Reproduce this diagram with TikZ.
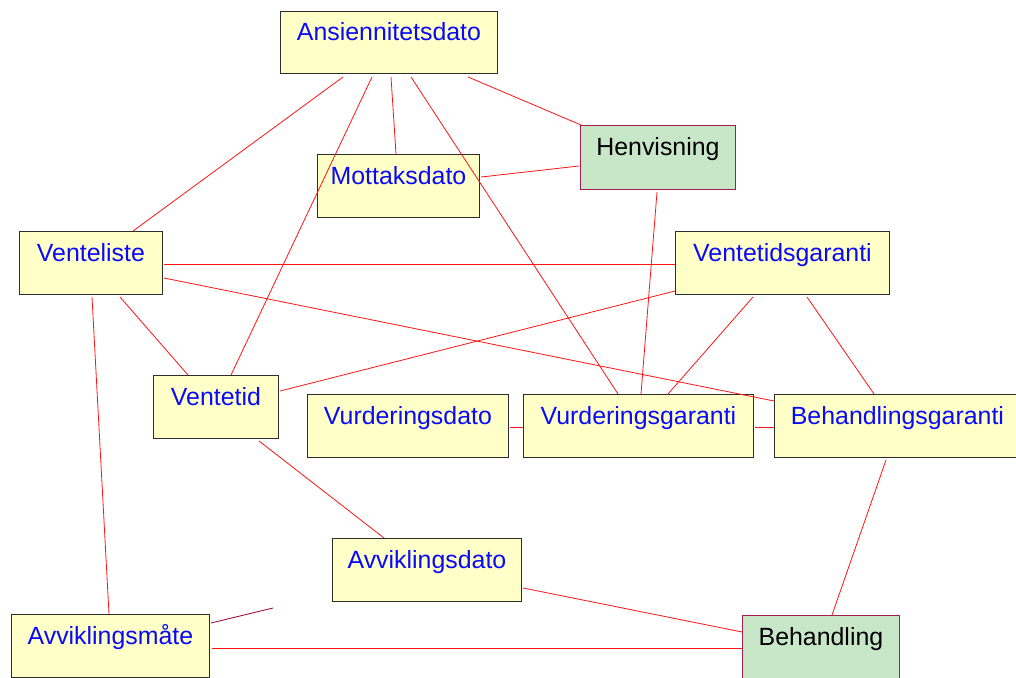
\documentclass[tikz,border=0pt]{standalone}
\usepackage{fontspec}
\setmainfont{Liberation Sans}
\usetikzlibrary{calc}

\definecolor{boxfill}{RGB}{255,255,200}
\definecolor{greenfill}{RGB}{200,230,200}
\definecolor{boxline}{RGB}{45,45,45}
\definecolor{greenline}{RGB}{165,30,75}
\definecolor{entitytext}{RGB}{10,10,250}
\definecolor{linkred}{RGB}{255,20,20}
\definecolor{stubred}{RGB}{160,20,60}

\tikzset{
  entity/.style={rectangle, anchor=north west, inner sep=0pt,
    fill=boxfill, draw=boxline, line width=0.9pt,
    text=entitytext, font=\fontsize{24.9}{30}\selectfont,
    text height=18pt, text depth=21pt, align=center},
  source/.style={entity, fill=greenfill, draw=greenline, text=black},
  link/.style={draw=linkred, line width=0.8pt},
  stub/.style={draw=stubred, line width=0.9pt}
}

\begin{document}
\begin{tikzpicture}[x=1pt, y=-1pt]
  \useasboundingbox (0,0) rectangle (1016,677);
  \fill[white] (0,0) rectangle (1016,677);
  \clip (0,0) rectangle (1016,677);

  % entities
  \node[entity, minimum width=217pt, minimum height=62pt] (ans) at (280,11) {Ansiennitetsdato};
  \node[entity, minimum width=162pt, minimum height=63pt] (mot) at (317,154) {Mottaksdato};
  \node[source, minimum width=155pt, minimum height=64pt] (hen) at (580,125) {Henvisning};
  \node[entity, minimum width=143pt, minimum height=63pt] (vl) at (19,231) {Venteliste};
  \node[entity, minimum width=214pt, minimum height=63pt] (vtg) at (675,231) {Ventetidsgaranti};
  \node[entity, minimum width=125pt, minimum height=63pt] (vt) at (153,375) {Ventetid};
  \node[entity, minimum width=201pt, minimum height=63pt] (vd) at (307,394) {Vurderingsdato};
  \node[entity, minimum width=230pt, minimum height=63pt] (vg) at (523,394) {Vurderingsgaranti};
  \node[entity, minimum width=246pt, minimum height=63pt] (bg) at (774,394) {Behandlingsgaranti};
  \node[entity, minimum width=189pt, minimum height=63pt] (ad) at (332,538) {Avviklingsdato};
  \node[entity, minimum width=198pt, minimum height=63pt] (am) at (11,614) {Avviklingsmåte};
  \node[source, minimum width=157pt, minimum height=63pt] (beh) at (742,615) {Behandling};

  \coordinate (stubend) at (273,608);

  % relations
  \draw[link] ($(ans.north west)+(63,66)$) -- ($(vl.north west)+(114,0)$);
  \draw[link] ($(ans.north west)+(92,66)$) -- ($(vt.north west)+(78,0)$);
  \draw[link] ($(ans.north west)+(111,66)$) -- ($(mot.north west)+(79,0)$);
  \draw[link] ($(ans.north west)+(131,66)$) -- ($(vg.north west)+(95,0)$);
  \draw[link] ($(ans.north west)+(188,66)$) -- ($(hen.north west)+(1,0)$);
  \draw[link] ($(mot.north west)+(164,23)$) -- ($(hen.north west)+(-1,41)$);
  \draw[link] ($(hen.north west)+(77,67)$) -- ($(vg.north west)+(118,0)$);
  \draw[link] ($(vl.north west)+(145,33)$) -- ($(vtg.north west)+(0,33)$);
  \draw[link] ($(vl.north west)+(145,47)$) -- ($(bg.north west)+(0,7)$);
  \draw[link] ($(vl.north west)+(101,66)$) -- ($(vt.north west)+(35,0)$);
  \draw[link] ($(vl.north west)+(73,66)$) -- ($(am.north west)+(98,0)$);
  \draw[link] ($(vtg.north west)+(0,60)$) -- ($(vt.north west)+(127,16)$);
  \draw[link] ($(vtg.north west)+(78,66)$) -- ($(vg.north west)+(145,0)$);
  \draw[link] ($(vtg.north west)+(132,66)$) -- ($(bg.north west)+(100,0)$);
  \draw[link] ($(vd.north west)+(203,33)$) -- ($(vg.north west)+(0,33)$);
  \draw[link] ($(vg.north west)+(232,33)$) -- ($(bg.north west)+(0,33)$);
  \draw[link] ($(vt.north west)+(106,66)$) -- ($(ad.north west)+(52,0)$);
  \draw[link] ($(ad.north west)+(191,50)$) -- ($(beh.north west)+(0,17)$);
  \draw[link] ($(bg.north west)+(112,66)$) -- ($(beh.north west)+(90,0)$);
  \draw[link] ($(am.north west)+(201,34)$) -- ($(beh.north west)+(0,33)$);
  \draw[stub] ($(am.north west)+(200,9)$) -- (stubend);
\end{tikzpicture}
\end{document}
